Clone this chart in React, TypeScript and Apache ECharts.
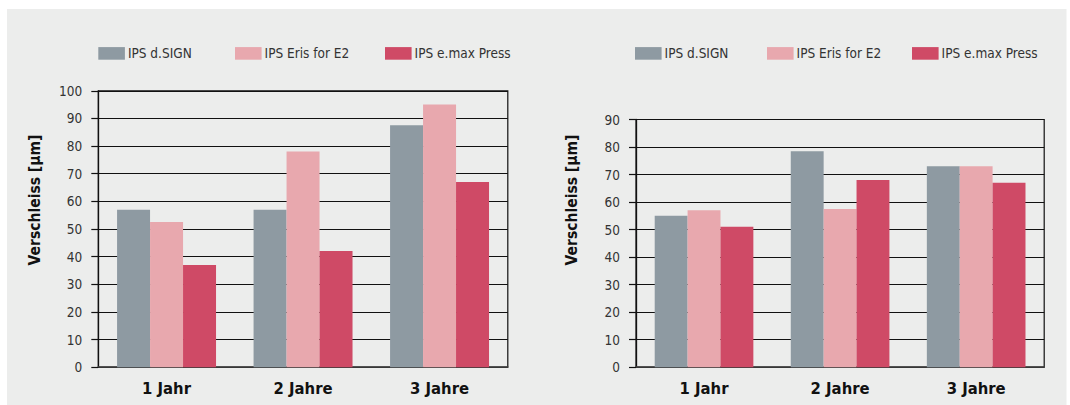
import React, { useEffect, useRef } from "react";
import * as echarts from "echarts";

const categories = ["1 Jahr", "2 Jahre", "3 Jahre"];
const seriesNames = ["IPS d.SIGN", "IPS Eris for E2", "IPS e.max Press"];
const seriesColors = ["#8e9aa2", "#e8a8ae", "#cf4a66"];

const leftDSign = [57, 57, 87.5];
const leftEris = [52.5, 78, 95];
const leftEmax = [37, 42, 67];

const rightDSign = [55, 78.5, 73];
const rightEris = [57, 57.5, 73];
const rightEmax = [51, 68, 67];

const leftMax = 100;
const rightMax = 90;
const tickInterval = 10;
const yAxisName = "Verschleiss [µm]";

const FONT = "'DejaVu Sans Condensed', 'Liberation Sans', sans-serif";

export default function App() {
  const ref = useRef<HTMLDivElement>(null);

  useEffect(() => {
    if (!ref.current) return;
    const chart = echarts.init(ref.current, undefined, { renderer: "svg" });

    const leftData = [leftDSign, leftEris, leftEmax];
    const rightData = [rightDSign, rightEris, rightEmax];

    const grids = [
      { left: 98.3, top: 90.8, width: 409.5, height: 276.4 },
      { left: 636, top: 119.5, width: 408.2, height: 247.7 },
    ];

    const legendLefts = [
      [98.3, 235, 385],
      [635, 767, 912],
    ];

    const legends: any[] = [];
    legendLefts.forEach((row) => {
      row.forEach((lx, i) => {
        legends.push({
          left: lx,
          top: 46.4,
          padding: 0,
          orient: "horizontal",
          icon: "rect",
          itemWidth: 26.6,
          itemHeight: 12.6,
          selectedMode: false,
          data: [seriesNames[i]],
          textStyle: {
            fontFamily: FONT,
            fontSize: 13.5,
            color: "#333",
            lineHeight: 13,
            padding: [0, 0, 0, -2],
          },
        });
      });
    });

    const xAxes = [0, 1].map((g) => ({
      type: "category",
      gridIndex: g,
      data: categories,
      axisLine: { show: true, lineStyle: { color: "#444", width: 1.5 } },
      axisTick: { show: false },
      axisLabel: {
        fontFamily: FONT,
        fontSize: 16.5,
        fontWeight: "bold",
        color: "#111",
        margin: 13,
      },
      splitLine: { show: false },
    }));

    const yAxes = [leftMax, rightMax].map((mx, g) => ({
      type: "value",
      gridIndex: g,
      min: 0,
      max: mx,
      interval: tickInterval,
      axisLine: { show: true, lineStyle: { color: "#111", width: 1.3 } },
      axisTick: {
        show: true,
        length: 7,
        lineStyle: { color: "#111", width: 1.2 },
      },
      axisLabel: {
        fontFamily: FONT,
        fontSize: 13.5,
        color: "#333",
        margin: 16,
      },
      splitLine: { show: true, lineStyle: { color: "#111", width: 1.2 } },
    }));

    const series: any[] = [];
    [leftData, rightData].forEach((dataSet, g) => {
      dataSet.forEach((vals, i) => {
        series.push({
          type: "bar",
          name: seriesNames[i],
          xAxisIndex: g,
          yAxisIndex: g,
          data: vals,
          barGap: "0%",
          barCategoryGap: "27.5%",
          itemStyle: { color: seriesColors[i] },
        });
      });
    });

    const nameStyle = {
      text: yAxisName,
      fontFamily: FONT,
      fontSize: 15.5,
      fontWeight: "bold",
      fill: "#111",
      align: "center",
      verticalAlign: "middle",
    };

    chart.setOption({
      animation: false,
      backgroundColor: "#ffffff",
      color: seriesColors,
      grid: grids.map((gr) => ({
        ...gr,
        show: true,
        backgroundColor: "transparent",
        borderColor: "#111",
        borderWidth: 1.2,
      })),
      legend: legends,
      xAxis: xAxes,
      yAxis: yAxes,
      series,
      graphic: {
        elements: [
          {
            type: "rect",
            z: -100,
            silent: true,
            shape: { x: 7, y: 9, width: 1059.5, height: 400 },
            style: { fill: "#ecedec" },
          },
          {
            type: "text",
            x: 34.5,
            y: 200,
            rotation: Math.PI / 2,
            style: nameStyle,
          },
          {
            type: "text",
            x: 571.7,
            y: 200,
            rotation: Math.PI / 2,
            style: nameStyle,
          },
        ],
      },
    });

    return () => chart.dispose();
  }, []);

  return (
    <div
      ref={ref}
      style={{ position: "absolute", left: 0, top: 0, width: 1070, height: 405 }}
    />
  );
}
